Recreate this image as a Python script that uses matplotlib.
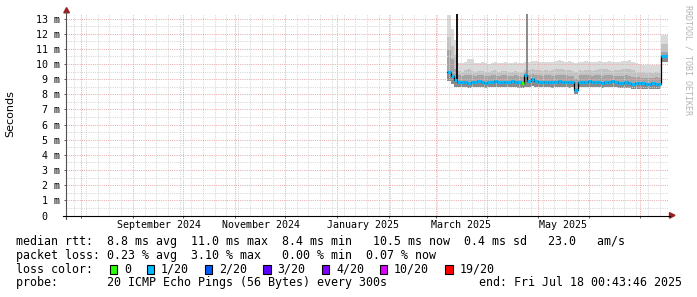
import matplotlib
matplotlib.use("Agg")
import matplotlib.pyplot as plt
import matplotlib.dates as mdates
import numpy as np
from matplotlib.patches import Rectangle, Polygon
from matplotlib.lines import Line2D

# ---- data ----
end_time = np.datetime64("2025-07-18T00:43:46")
first_sample = np.datetime64("2025-03-08T00:00")
step_days = 2  # one value per 2-day step

median_rtt = [
    9.50, 9.20, 8.95, 8.82, 8.80, 8.78, 8.75, 8.80, 8.82, 8.85,
    8.80, 8.75, 8.80, 8.80, 8.85, 8.80, 8.84, 8.80, 8.80, 8.85,
    8.80, 8.78, 8.72, 9.25, 8.90, 9.00, 8.85, 8.80, 8.80, 8.82,
    8.80, 8.78, 8.80, 8.85, 8.80, 8.80, 8.78, 8.80, 8.25, 8.80,
    8.80, 8.82, 8.85, 8.80, 8.80, 8.78, 8.75, 8.78, 8.80, 8.85,
    8.80, 8.75, 8.75, 8.78, 8.72, 8.70, 8.72, 8.75, 8.72, 8.70,
    8.70, 8.72, 8.70, 8.70, 10.50,
]
ping_max = [
    13.20, 12.30, 11.60, 10.05, 10.05, 10.10, 10.35, 10.30, 10.05, 10.05,
    10.10, 10.05, 10.00, 10.05, 10.10, 10.05, 10.05, 10.10, 10.05, 10.05,
    10.10, 10.05, 10.05, 10.10, 10.15, 10.20, 10.20, 10.15, 10.10, 10.15,
    10.10, 10.15, 10.20, 10.25, 10.20, 10.15, 10.20, 10.10, 10.05, 10.15,
    10.10, 10.20, 10.15, 10.15, 10.15, 10.20, 10.15, 10.15, 10.20, 10.15,
    10.15, 10.15, 10.20, 10.20, 10.25, 10.15, 10.05, 10.00, 9.95, 9.95,
    9.95, 9.90, 9.95, 9.95, 11.90,
]
ping_p75 = [
    11.80, 11.20, 10.60, 9.55, 9.50, 9.60, 9.65, 9.55, 9.50, 9.55,
    9.55, 9.50, 9.50, 9.55, 9.60, 9.50, 9.55, 9.55, 9.50, 9.50,
    9.55, 9.50, 9.50, 9.60, 9.60, 9.65, 9.60, 9.60, 9.55, 9.60,
    9.55, 9.60, 9.65, 9.70, 9.65, 9.60, 9.60, 9.55, 9.50, 9.60,
    9.55, 9.60, 9.60, 9.55, 9.60, 9.65, 9.70, 9.70, 9.60, 9.55,
    9.60, 9.60, 9.65, 9.65, 9.70, 9.60, 9.50, 9.45, 9.45, 9.40,
    9.45, 9.40, 9.45, 9.40, 11.30,
]
ping_p55 = [
    10.90, 10.30, 9.70, 9.25, 9.20, 9.25, 9.30, 9.25, 9.20, 9.25,
    9.25, 9.20, 9.20, 9.25, 9.25, 9.20, 9.25, 9.25, 9.20, 9.20,
    9.25, 9.20, 9.15, 9.50, 9.30, 9.35, 9.25, 9.25, 9.20, 9.25,
    9.25, 9.20, 9.25, 9.30, 9.25, 9.25, 9.20, 9.20, 9.00, 9.25,
    9.25, 9.25, 9.30, 9.20, 9.25, 9.25, 9.20, 9.25, 9.25, 9.25,
    9.20, 9.20, 9.20, 9.25, 9.20, 9.15, 9.15, 9.15, 9.10, 9.10,
    9.10, 9.10, 9.15, 9.10, 10.80,
]
ping_min = [
    8.85, 8.65, 8.50, 8.45, 8.45, 8.45, 8.40, 8.45, 8.45, 8.50,
    8.45, 8.40, 8.45, 8.45, 8.50, 8.45, 8.45, 8.45, 8.45, 8.50,
    8.45, 8.40, 8.40, 8.50, 8.50, 8.55, 8.45, 8.45, 8.45, 8.45,
    8.45, 8.40, 8.45, 8.50, 8.45, 8.45, 8.40, 8.45, 8.05, 8.45,
    8.45, 8.45, 8.50, 8.45, 8.45, 8.45, 8.40, 8.45, 8.45, 8.45,
    8.45, 8.40, 8.40, 8.40, 8.40, 8.35, 8.35, 8.35, 8.35, 8.35,
    8.35, 8.35, 8.35, 8.35, 10.15,
]
# index into loss_colors for each step
loss_step = [
    1, 1, 1, 1, 1, 1, 1, 1, 1, 1,
    1, 1, 1, 1, 1, 1, 1, 1, 1, 1,
    1, 1, 0, 1, 1, 1, 1, 1, 1, 1,
    1, 1, 1, 1, 1, 1, 1, 1, 1, 1,
    1, 1, 1, 1, 1, 1, 1, 1, 1, 1,
    1, 1, 1, 1, 1, 1, 1, 1, 1, 1,
    1, 1, 1, 1, 1,
]
spike_times = ["2025-03-13T20:00", "2025-04-24T12:00"]
spike_tops = [13.4, 13.3]
spike_bases = [8.85, 8.85]
spike_colors = ["#111111", "#8a8a8a"]

loss_labels = ["0", "1/20", "2/20", "3/20", "4/20", "10/20", "19/20"]
loss_colors = ["#26ff00", "#00b8ff", "#0059ff", "#5e00ff", "#7e00ff",
               "#dd00ff", "#ff0000"]

month_labels = ["September 2024", "November 2024", "January 2025",
                "March 2025", "May 2025"]
month_label_times = ["2024-09-16T12:00", "2024-11-16T12:00",
                     "2025-01-16T12:00", "2025-03-16T12:00",
                     "2025-05-16T12:00"]

stats_lines = [
    "median rtt:  8.8 ms avg  11.0 ms max  8.4 ms min   10.5 ms now  0.4 ms sd   23.0   am/s",
    "packet loss: 0.23 % avg  3.10 % max   0.00 % min  0.07 % now",
]
probe_text = "probe:       20 ICMP Echo Pings (56 Bytes) every 300s"
end_text = "end: Fri Jul 18 00:43:46 2025"

# ---- layout (pixels) ----
W, H = 697, 297
L, R, T, B = 66, 668, 13.5, 215.5
MONO = "DejaVu Sans Mono"


def fx(x):
    return x / W


def fy(y):
    return 1 - y / H


fig = plt.figure(figsize=(W / 100, H / 100), dpi=100)
fig.patch.set_facecolor("white")
ax = fig.add_axes([fx(L), fy(B), (R - L) / W, (B - T) / H])
ax.set_facecolor("white")

start_time = end_time - np.timedelta64(360, "D")
ax.set_xlim(mdates.date2num(start_time), mdates.date2num(end_time))
ax.set_ylim(0, 13.33)

n = len(median_rtt)
t = first_sample + np.arange(n) * np.timedelta64(step_days, "D")
xe = mdates.date2num(np.append(t, end_time))


def ext(v):
    return np.append(v, v[-1])


# smoke
smoke = [
    (ping_min, ping_max, "#dadada"),
    (ping_min, ping_p75, "#c2c2c2"),
    (ping_min, ping_p55, "#a4a4a4"),
    (ping_min, median_rtt, "#8a8a8a"),
]
for lo, hi, c in smoke:
    ax.fill_between(xe, ext(lo), ext(hi), step="post", color=c, lw=0,
                    zorder=1)

# spikes
for st, top, base, c in zip(spike_times, spike_tops, spike_bases,
                            spike_colors):
    ax.vlines(mdates.date2num(np.datetime64(st)), base, top, colors=c,
              lw=1.4, zorder=3)

# median line
ax.step(xe, ext(median_rtt), where="post", color="black", lw=0.9, zorder=3)
ax.hlines(median_rtt, xe[:-1], xe[1:],
          colors=[loss_colors[k] for k in loss_step], lw=2.2, zorder=4)

# grid
ax.set_yticks(np.arange(0, 14))
ax.set_yticks(np.arange(0, 13.4, 0.5), minor=True)
ax.xaxis.set_major_locator(mdates.MonthLocator())
ax.xaxis.set_minor_locator(mdates.WeekdayLocator(byweekday=mdates.SU))
ax.xaxis.set_major_formatter(plt.NullFormatter())
dots = (0, (1, 1.2))
ax.grid(True, which="minor", color="#d6d6d6", ls=dots, lw=0.72, zorder=2)
ax.grid(True, which="major", color="#e8abab", ls=dots, lw=0.72, zorder=2)
ax.set_axisbelow(False)

ax.set_yticklabels([" 0  "] + [f"{v:2d} m" for v in range(1, 14)],
                   family=MONO, fontsize=7.2)
ax.tick_params(axis="y", which="major", length=1.5, width=0.7,
               color="#555555", pad=2.9)
ax.tick_params(axis="x", which="major", length=1.5, width=0.7,
               color="#555555")
ax.tick_params(which="minor", length=0)
for s in ax.spines.values():
    s.set_visible(False)

for lab, lt in zip(month_labels, month_label_times):
    ax.text(mdates.date2num(np.datetime64(lt)), -9.5 / (B - T),
            lab, transform=ax.get_xaxis_transform(), ha="center",
            va="center", family=MONO, fontsize=7.2)

# axis lines and arrows
fig.add_artist(Line2D([fx(66), fx(66)], [fy(12), fy(219)],
                      color="#505050", lw=0.8, transform=fig.transFigure))
fig.add_artist(Line2D([fx(63), fx(670)], [fy(B), fy(B)],
                      color="black", lw=0.8, transform=fig.transFigure))
arrow_c = "#9a2222"
fig.add_artist(Polygon([[fx(63.8), fy(12.8)], [fx(69.4), fy(12.8)],
                        [fx(66.6), fy(7.6)]], closed=True, color=arrow_c,
                       transform=fig.transFigure))
fig.add_artist(Polygon([[fx(669.5), fy(212.6)], [fx(669.5), fy(218.2)],
                        [fx(675), fy(215.4)]], closed=True, color=arrow_c,
                       transform=fig.transFigure))

fig.text(fx(10), fy(114), "Seconds", rotation=90, ha="center", va="center",
         fontsize=8)
fig.text(fx(688), fy(5), "RRDTOOL / TOBI OETIKER", rotation=-90,
         ha="center", va="top", family=MONO, fontsize=6, color="#b4b4b4")

# legend block
leg_size = 8.4
fig.text(fx(16), fy(241.7), stats_lines[0], family=MONO, fontsize=leg_size,
         va="center")
fig.text(fx(16), fy(255.3), stats_lines[1], family=MONO, fontsize=leg_size,
         va="center")
fig.text(fx(16), fy(269.3), "loss color:", family=MONO, fontsize=leg_size,
         va="center")
box_x = [109.5, 146.5, 204.5, 263, 321.5, 379.5, 445]
for bx, lab, c in zip(box_x, loss_labels, loss_colors):
    fig.add_artist(Rectangle((fx(bx), fy(274)), 7.6 / W, 9.5 / H,
                             facecolor=c, edgecolor="black", lw=0.8,
                             transform=fig.transFigure))
    fig.text(fx(bx + 14.6), fy(269.3), lab, family=MONO, fontsize=leg_size,
             va="center")
fig.text(fx(16), fy(282.8), probe_text, family=MONO, fontsize=leg_size,
         va="center")
fig.text(fx(682), fy(282.8), end_text, family=MONO, fontsize=leg_size,
         va="center", ha="right")

fig.savefig("out.png", dpi=100)
